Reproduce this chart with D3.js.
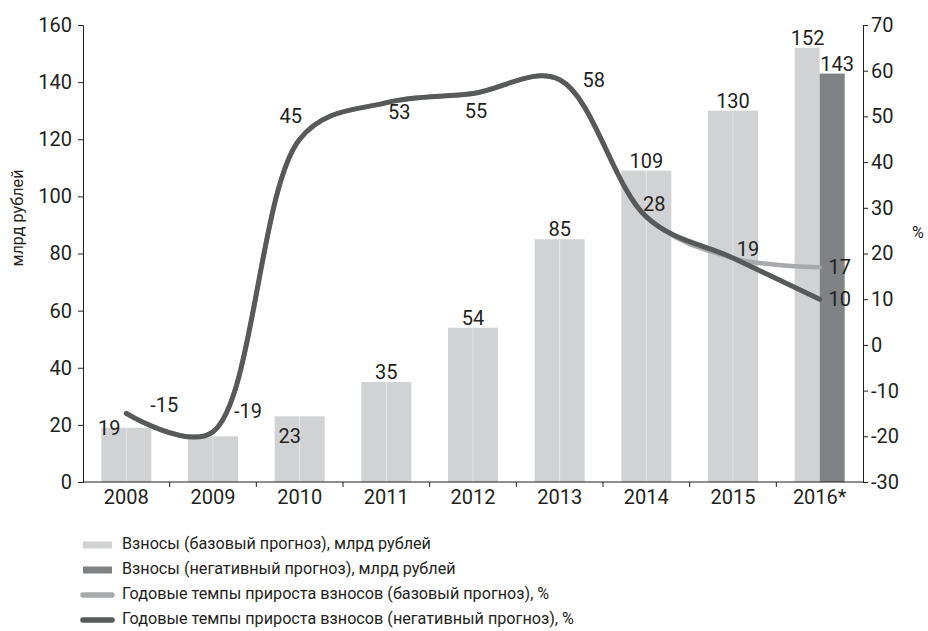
<!DOCTYPE html>
<html>
<head>
<meta charset="utf-8">
<script src="https://cdn.jsdelivr.net/npm/d3@7"></script>
<style>
body { margin: 0; background: #fff; }
text { font-family: Roboto, "Noto Sans", sans-serif; fill: #231f20; }
</style>
</head>
<body>
<script>
// data
var years = ["2008", "2009", "2010", "2011", "2012", "2013", "2014", "2015", "2016*"];
var baseValues = [19, 16, 23, 35, 54, 85, 109, 130, 152];
var negValues = [19, 16, 23, 35, 54, 85, 109, 130, 143];
var baseGrowth = [-15, -19, 45, 53, 55, 58, 28, 19, 17];
var negGrowth = [-15, -19, 45, 53, 55, 58, 28, 19, 10];
var leftTicks = [0, 20, 40, 60, 80, 100, 120, 140, 160];
var rightTicks = [-30, -20, -10, 0, 10, 20, 30, 40, 50, 60, 70];
var legendLabels = [
	"Взносы (базовый прогноз), млрд рублей",
	"Взносы (негативный прогноз), млрд рублей",
	"Годовые темпы прироста взносов (базовый прогноз), %",
	"Годовые темпы прироста взносов (негативный прогноз), %"
];

var svgWidth = 928, svgHeight = 631;
var margin = {top: 25, right: 65, bottom: 149, left: 83};
var width = svgWidth - margin.left - margin.right;
var height = svgHeight - margin.top - margin.bottom;

var colLight = "#d1d2d4", colDark = "#808285", lineLight = "#a7a9ac", lineDark = "#58595b";
var numSize = "20px", legSize = "16.2px";

var svg = d3.select("body").append("svg")
	.attr("width", svgWidth)
	.attr("height", svgHeight);

var g = svg.append("g")
	.attr("transform", `translate(${margin.left}, ${margin.top})`);

var x = d3.scaleBand().domain(years).range([0, width]);
var yL = d3.scaleLinear().domain([0, 160]).range([height, 0]);
var yR = d3.scaleLinear().domain([-30, 70]).range([height, 0]);

var barW = 25;
var last = years.length - 1;

// bars
g.selectAll(".bar-base").data(years).enter().append("rect")
	.attr("x", d => x(d) + x.bandwidth() / 2 - barW)
	.attr("y", (d, i) => yL(baseValues[i]))
	.attr("width", barW)
	.attr("height", (d, i) => height - yL(baseValues[i]))
	.attr("fill", colLight);

g.selectAll(".bar-neg").data(years).enter().append("rect")
	.attr("x", d => x(d) + x.bandwidth() / 2)
	.attr("y", (d, i) => yL(negValues[i]))
	.attr("width", barW)
	.attr("height", (d, i) => height - yL(negValues[i]))
	.attr("fill", (d, i) => i == last ? colDark : colLight);

// thin seam between paired bars
g.selectAll(".seam").data(years.slice(0, -1)).enter().append("line")
	.attr("x1", d => x(d) + x.bandwidth() / 2)
	.attr("x2", d => x(d) + x.bandwidth() / 2)
	.attr("y1", (d, i) => yL(baseValues[i]))
	.attr("y2", height)
	.attr("stroke", "#e6e7e8")
	.attr("stroke-width", 0.8);

// bar labels (2009 label is hidden in the original)
var barLabOff = [[-17, 7], null, [-10, 27], [0, -3], [0, -3], [0, -3], [0, -3], [0, -3], [-12, -3]];
g.selectAll(".blab").data(years).enter().append("text")
	.filter((d, i) => barLabOff[i] != null)
	.attr("x", d => x(d) + x.bandwidth() / 2 + barLabOff[years.indexOf(d)][0])
	.attr("y", d => yL(baseValues[years.indexOf(d)]) + barLabOff[years.indexOf(d)][1])
	.attr("text-anchor", "middle")
	.style("font-size", numSize)
	.text(d => baseValues[years.indexOf(d)]);

g.append("text")
	.attr("x", x(years[last]) + x.bandwidth() / 2 + barW / 2 + 5)
	.attr("y", yL(negValues[last]) - 3)
	.attr("text-anchor", "middle")
	.style("font-size", numSize)
	.text(negValues[last]);

// lines
var line = d3.line()
	.x((d, i) => x(years[i]) + x.bandwidth() / 2)
	.y(d => yR(d))
	.curve(d3.curveCatmullRom.alpha(0.4));

g.append("path").datum(baseGrowth)
	.attr("d", line)
	.attr("fill", "none")
	.attr("stroke", lineLight)
	.attr("stroke-width", 4.5)
	.attr("stroke-linecap", "round");

g.append("path").datum(negGrowth)
	.attr("d", line)
	.attr("fill", "none")
	.attr("stroke", lineDark)
	.attr("stroke-width", 5)
	.attr("stroke-linecap", "round");

// line labels (offsets from the point)
var labelOff = [[38, -1], [35, -14], [-9, -16], [13, 16], [3, 24], [34, 7], [8, -6], [15, -2], [20, 7]];
g.selectAll(".llab").data(negGrowth).enter().append("text")
	.attr("x", (d, i) => x(years[i]) + x.bandwidth() / 2 + labelOff[i][0])
	.attr("y", (d, i) => yR(d) + labelOff[i][1])
	.attr("text-anchor", "middle")
	.style("font-size", numSize)
	.text(d => d);

g.append("text")
	.attr("x", x(years[last]) + x.bandwidth() / 2 + 20)
	.attr("y", yR(baseGrowth[last]) + 7)
	.attr("text-anchor", "middle")
	.style("font-size", numSize)
	.text(baseGrowth[last]);

// axes
var axisLeft = d3.axisLeft(yL).tickValues(leftTicks).tickSize(5).tickPadding(6)
	.tickFormat(d => String(d));
var axisRight = d3.axisRight(yR).tickValues(rightTicks).tickSize(5).tickPadding(3)
	.tickFormat(d => String(d));

var gl = g.append("g").call(axisLeft);
var gr = g.append("g").attr("transform", `translate(${width}, 0)`).call(axisRight);

var gx = g.append("g").attr("transform", `translate(0, ${height})`);
gx.append("line").attr("x1", 0).attr("x2", width).attr("stroke", "#231f20");
gx.selectAll(".xt").data(years.slice(1)).enter().append("line")
	.attr("x1", d => x(d)).attr("x2", d => x(d))
	.attr("y1", 0).attr("y2", 5)
	.attr("stroke", "#231f20");
gx.selectAll(".xl").data(years).enter().append("text")
	.attr("x", d => x(d) + x.bandwidth() / 2)
	.attr("y", 22)
	.attr("text-anchor", "middle")
	.style("font-size", numSize)
	.text(d => d);

[gl, gr].forEach(function(a) {
	a.select(".domain").attr("stroke", "#231f20");
	a.selectAll(".tick line").attr("stroke", "#231f20");
	a.selectAll(".tick text").style("font-size", numSize).attr("fill", "#231f20")
		.style("font-family", "Roboto, 'Noto Sans', sans-serif");
});

// axis titles
svg.append("text")
	.attr("transform", "translate(23, 218) rotate(-90)")
	.attr("text-anchor", "middle")
	.style("font-size", legSize)
	.text("млрд рублей");

svg.append("text")
	.attr("x", 918)
	.attr("y", 238)
	.attr("text-anchor", "middle")
	.style("font-size", legSize)
	.text("%");

// legend
var legend = svg.append("g").attr("transform", "translate(83, 545)");
legendLabels.forEach(function(lab, i) {
	var row = legend.append("g").attr("transform", `translate(0, ${i * 25})`);
	if (i < 2) {
		row.append("rect").attr("x", 0).attr("y", -3.5).attr("width", 29).attr("height", 7)
			.attr("fill", i == 0 ? colLight : colDark);
	} else {
		row.append("line").attr("x1", 0).attr("x2", 29).attr("y1", 0).attr("y2", 0)
			.attr("stroke", i == 2 ? lineLight : lineDark)
			.attr("stroke-width", 5.5)
			.attr("stroke-linecap", "round");
	}
	row.append("text").attr("x", 39).attr("y", 4)
		.style("font-size", legSize)
		.text(lab);
});
</script>
</body>
</html>
